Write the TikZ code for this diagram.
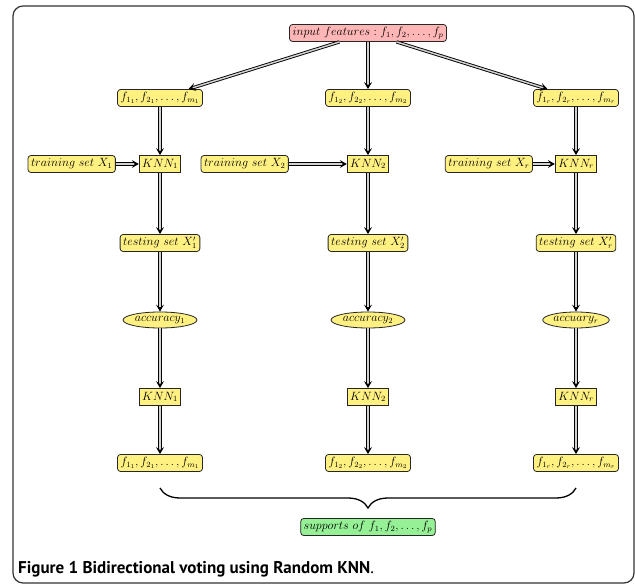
\documentclass[tikz,border=0pt]{standalone}
\usepackage{fontspec}
\newfontfamily\capfont{PT Sans}
\usetikzlibrary{arrows.meta,positioning,shapes.geometric,decorations.pathreplacing}
\definecolor{boxyellow}{RGB}{255,240,130}
\definecolor{boxpink}{RGB}{255,182,182}
\definecolor{boxgreen}{RGB}{150,240,150}
\tikzset{rbox/.style={draw=black!85, fill=boxyellow, rectangle, rounded corners=3pt,
  inner xsep=3pt, inner ysep=2pt, minimum height=17pt, thick}}
\tikzset{kbox/.style={draw=black!85, fill=boxyellow, rectangle,
  inner xsep=3pt, inner ysep=2pt, minimum height=17pt, thick}}
\tikzset{oval/.style={draw=black!85, fill=boxyellow, ellipse,
  inner xsep=1pt, inner ysep=0pt, minimum height=16pt, thick}}
\tikzset{arrow/.style={-{Stealth[length=7pt,width=8pt,inset=3pt]}, double=gray!35,
  double distance=1.5pt, line width=0.9pt}}

\begin{document}
\begin{tikzpicture}[x=1pt, y=1pt, font=\fontsize{11.5}{13}\selectfont]
  \useasboundingbox (0,0) rectangle (635,-585);
  % frame
  \draw[rounded corners=10pt, line width=1.2pt, black!80] (13,-6) rectangle (634,-583);

  % input
  \node[rbox, fill=boxpink] (input) at (368,-33) {$input\ features: f_1, f_2, \ldots, f_p$};

  % column 1
  \node[rbox] (feat1)  at (160,-98)  {$f_{1_1}, f_{2_1}, \ldots, f_{m_1}$};
  \node[kbox] (knn1)   at (160,-164) {$KNN_1$};
  \node[rbox, left=23pt of knn1] (train1) {$training\ set\ X_1$};
  \node[rbox] (test1)  at (160,-243) {$testing\ set\ X'_1$};
  \node[oval] (acc1)   at (160,-320) {$accuracy_1$};
  \node[kbox] (knnb1)  at (160,-397) {$KNN_1$};
  \node[rbox] (sel1)   at (160,-463) {$f_{1_1}, f_{2_1}, \ldots, f_{m_1}$};

  % column 2
  \node[rbox] (feat2)  at (368,-98)  {$f_{1_2}, f_{2_2}, \ldots, f_{m_2}$};
  \node[kbox] (knn2)   at (368,-164) {$KNN_2$};
  \node[rbox, left=58pt of knn2] (train2) {$training\ set\ X_2$};
  \node[rbox] (test2)  at (368,-243) {$testing\ set\ X'_2$};
  \node[oval] (acc2)   at (368,-320) {$accuracy_2$};
  \node[kbox] (knnb2)  at (368,-397) {$KNN_2$};
  \node[rbox] (sel2)   at (368,-463) {$f_{1_2}, f_{2_2}, \ldots, f_{m_2}$};

  % column r
  \node[rbox] (featr)  at (576,-98)  {$f_{1_r}, f_{2_r}, \ldots, f_{m_r}$};
  \node[kbox] (knnr)   at (576,-164) {$KNN_r$};
  \node[rbox, left=22pt of knnr] (trainr) {$training\ set\ X_r$};
  \node[rbox] (testr)  at (576,-243) {$testing\ set\ X'_r$};
  \node[oval] (accr)   at (576,-320) {$accuary_r$};
  \node[kbox] (knnbr)  at (576,-397) {$KNN_r$};
  \node[rbox] (selr)   at (576,-463) {$f_{1_r}, f_{2_r}, \ldots, f_{m_r}$};

  % arrows
  \draw[arrow] (input) -- (feat1);
  \draw[arrow] (input) -- (feat2);
  \draw[arrow] (input) -- (featr);
  \draw[arrow] (feat1) -- (knn1);
  \draw[arrow] (feat2) -- (knn2);
  \draw[arrow] (featr) -- (knnr);
  \draw[arrow] (train1) -- (knn1);
  \draw[arrow] (train2) -- (knn2);
  \draw[arrow] (trainr) -- (knnr);
  \draw[arrow] (knn1) -- (test1);
  \draw[arrow] (knn2) -- (test2);
  \draw[arrow] (knnr) -- (testr);
  \draw[arrow] (test1) -- (acc1);
  \draw[arrow] (test2) -- (acc2);
  \draw[arrow] (testr) -- (accr);
  \draw[arrow] (acc1) -- (knnb1);
  \draw[arrow] (acc2) -- (knnb2);
  \draw[arrow] (accr) -- (knnbr);
  \draw[arrow] (knnb1) -- (sel1);
  \draw[arrow] (knnb2) -- (sel2);
  \draw[arrow] (knnbr) -- (selr);

  % brace + supports
  \draw[decorate, decoration={brace, mirror, amplitude=20pt}, line width=1.3pt]
    ([yshift=-25pt]sel1.center) -- ([yshift=-25pt]selr.center);
  \node[rbox, fill=boxgreen] (supp) at (368,-527) {$supports\ of\ f_1, f_2, \ldots, f_p$};

  % caption
  \node[anchor=base west, inner sep=0pt, font=\capfont\fontsize{17}{19}\selectfont] (cap)
    at (18,-573) {\textbf{Figure 1 Bidirectional voting using Random KNN}.};
\end{tikzpicture}
\end{document}
